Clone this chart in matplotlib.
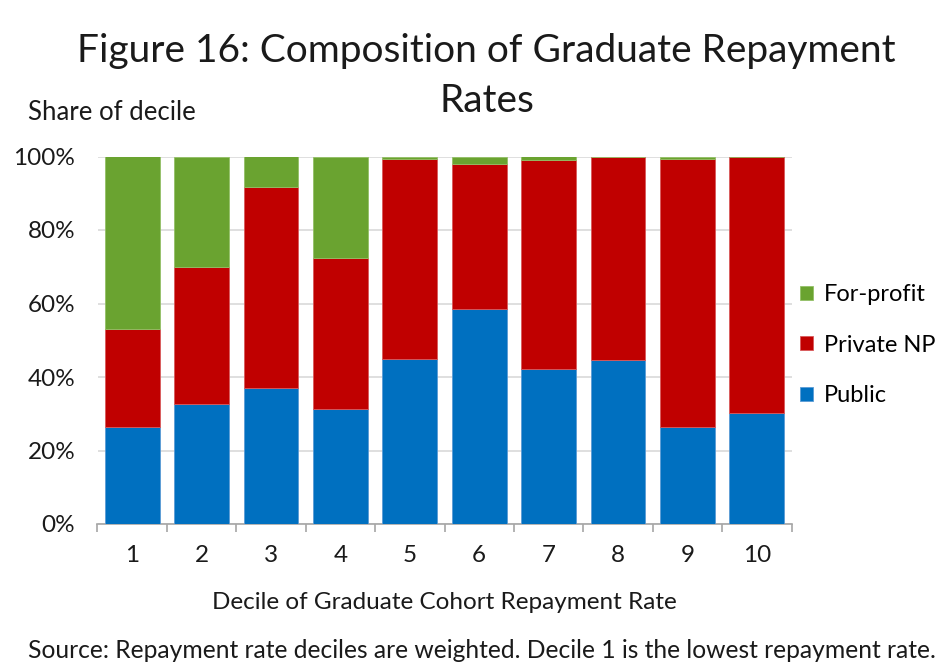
import numpy as np
import matplotlib.pyplot as plt
from matplotlib.ticker import PercentFormatter

plt.rcParams['font.family'] = ['Lato', 'DejaVu Sans']

# Data (share of decile)
deciles = ['1', '2', '3', '4', '5', '6', '7', '8', '9', '10']
public = [26.5, 32.7, 37.0, 31.4, 45.0, 58.6, 42.2, 44.6, 26.5, 30.3]
private_np = [26.5, 37.1, 54.7, 40.9, 54.3, 39.4, 56.8, 55.3, 72.8, 69.7]
for_profit = [47.0, 30.2, 8.3, 27.7, 0.7, 2.0, 1.0, 0.1, 0.7, 0.0]

W, H = 943, 670
fig = plt.figure(figsize=(W / 100, H / 100), dpi=100)
ax = fig.add_axes([97.5 / W, 1 - 524 / H, (791.5 - 97.5) / W, (524 - 156.5) / H])

x = np.arange(len(deciles))
pub = np.array(public) / 100
prv = np.array(private_np) / 100
fp = np.array(for_profit) / 100

bw = 0.79
b1 = ax.bar(x, pub, bw, color='#0070C0', edgecolor='#5A9BD5', linewidth=0.6, label='Public', zorder=3)
b2 = ax.bar(x, prv, bw, bottom=pub, color='#C00000', edgecolor='#D9595B', linewidth=0.6, label='Private NP', zorder=3)
b3 = ax.bar(x, fp, bw, bottom=pub + prv, color='#6AA330', edgecolor='#93C066', linewidth=0.6, label='For-profit', zorder=3)

ax.set_xlim(-0.5, len(deciles) - 0.5)
ax.set_ylim(0, 1)
ax.set_yticks(np.arange(0, 1.01, 0.2))
ax.yaxis.set_major_formatter(PercentFormatter(1.0, decimals=0))
ax.set_xticks(x)
ax.set_xticklabels(deciles)
ax.set_xticks(np.arange(-0.5, len(deciles), 1), minor=True)

ax.grid(axis='y', color='#D9D9D9', linewidth=1.2, zorder=0)
for s in ['top', 'right', 'left']:
    ax.spines[s].set_visible(False)
ax.spines['bottom'].set_color('#A6A6A6')
ax.spines['bottom'].set_linewidth(1.2)

ax.tick_params(axis='y', length=0, labelsize=17.5, pad=16, colors='#1a1a1a')
ax.tick_params(axis='x', which='major', length=0, labelsize=17.5, pad=15, colors='#1a1a1a')
ax.tick_params(axis='x', which='minor', length=6, width=1.2, color='#A6A6A6')

ax.set_xlabel('Decile of Graduate Cohort Repayment Rate', fontsize=17.5, labelpad=19, color='#1a1a1a')

handles = [b3, b2, b1]
fig.legend(handles, [h.get_label() for h in handles], loc='center left',
           bbox_to_anchor=(800 / W, 1 - 345 / H), frameon=False, fontsize=17,
           borderpad=0, borderaxespad=0,
           handlelength=0.55, handleheight=0.55, handletextpad=0.45, labelspacing=1.25)

fig.text(486 / W, 1 - 51 / H, 'Figure 16: Composition of Graduate Repayment',
         ha='center', va='center', fontsize=28, color='#1a1a1a')
fig.text(487 / W, 1 - 101 / H, 'Rates', ha='center', va='center', fontsize=28, color='#1a1a1a')
fig.text(28 / W, 1 - 112 / H, 'Share of decile', ha='left', va='center', fontsize=18.5, color='#1a1a1a')
fig.text(28 / W, 1 - 651 / H,
         'Source: Repayment rate deciles are weighted. Decile 1 is the lowest repayment rate.',
         ha='left', va='center', fontsize=17.7, color='#1a1a1a')

fig.savefig('out.png', dpi=100)
